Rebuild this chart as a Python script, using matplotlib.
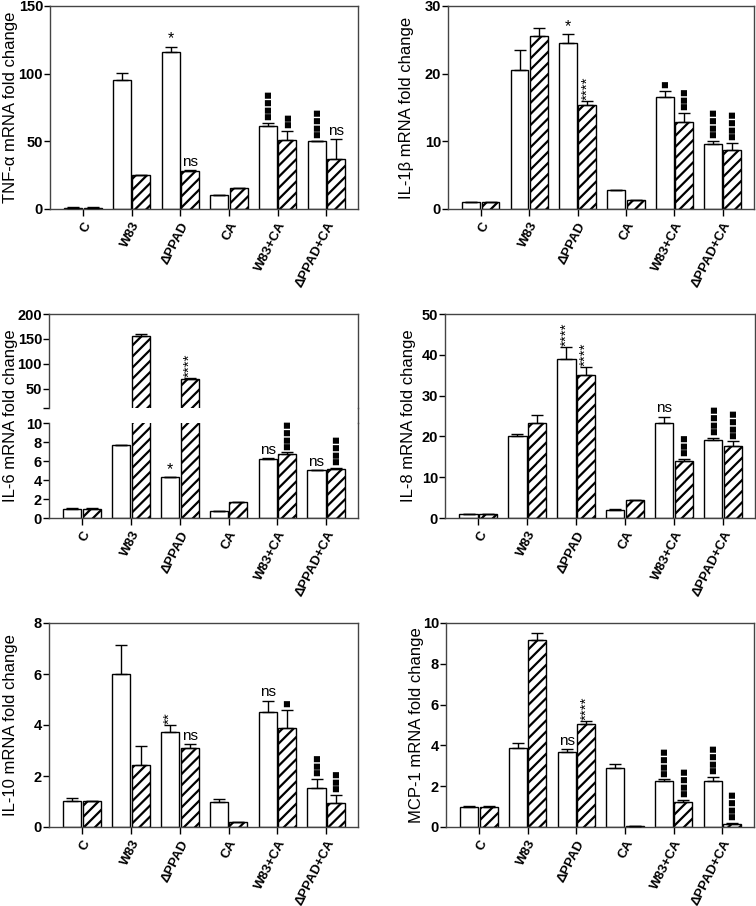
import matplotlib
matplotlib.use("Agg")
import matplotlib.pyplot as plt
import numpy as np

plt.rcParams['font.family'] = ['Liberation Sans', 'DejaVu Sans']
plt.rcParams['hatch.linewidth'] = 1.6

categories = ["C", "W83", "ΔPPAD", "CA", "W83+CA", "ΔPPAD+CA"]

# TNF-alpha
tnf_white = [1.0, 95.4, 116.3, 10.1, 61.0, 49.9]
tnf_white_err = [0.3, 5.4, 3.7, 0.2, 2.4, 0.5]
tnf_hatch = [1.0, 24.8, 28.3, 15.5, 51.1, 36.9]
tnf_hatch_err = [0.2, 0.3, 0.3, 0.3, 6.7, 14.7]
tnf_white_sig = ["", "", "*", "", "sq4", "sq4"]
tnf_hatch_sig = ["", "", "ns", "", "sq2", "ns"]

# IL-1beta
il1b_white = [1.0, 20.6, 24.5, 2.75, 16.6, 9.64]
il1b_white_err = [0.05, 2.9, 1.3, 0.1, 0.9, 0.4]
il1b_hatch = [1.0, 25.5, 15.4, 1.28, 12.9, 8.76]
il1b_hatch_err = [0.05, 1.2, 0.5, 0.05, 1.3, 1.0]
il1b_white_sig = ["", "", "*", "", "sq1", "sq4"]
il1b_hatch_sig = ["", "", "****", "", "sq3", "sq4"]

# IL-6 (broken axis)
il6_white = [1.0, 7.65, 4.28, 0.7, 6.25, 5.02]
il6_white_err = [0.02, 0.08, 0.05, 0.02, 0.06, 0.04]
il6_hatch = [1.0, 156.0, 68.7, 1.68, 6.77, 5.19]
il6_hatch_err = [0.03, 4.0, 2.0, 0.03, 0.13, 0.06]
il6_white_sig = ["", "", "*", "", "ns", "ns"]
il6_hatch_sig = ["", "", "****", "", "sq4", "sq4"]

# IL-8
il8_white = [1.0, 20.0, 39.0, 2.04, 23.3, 19.0]
il8_white_err = [0.05, 0.6, 2.9, 0.05, 1.5, 0.6]
il8_hatch = [1.0, 23.3, 35.1, 4.3, 13.9, 17.7]
il8_hatch_err = [0.05, 2.0, 1.9, 0.05, 0.6, 1.1]
il8_white_sig = ["", "", "****", "", "ns", "sq4"]
il8_hatch_sig = ["", "", "****", "", "sq3", "sq4"]

# IL-10
il10_white = [1.01, 6.0, 3.71, 0.98, 4.5, 1.53]
il10_white_err = [0.14, 1.12, 0.29, 0.13, 0.46, 0.37]
il10_hatch = [1.01, 2.45, 3.08, 0.2, 3.87, 0.94]
il10_hatch_err = [0.01, 0.74, 0.17, 0.01, 0.71, 0.33]
il10_white_sig = ["", "", "**", "", "ns", "sq3"]
il10_hatch_sig = ["", "", "ns", "", "sq1", "sq3"]

# MCP-1
mcp_white = [1.0, 3.89, 3.69, 2.87, 2.26, 2.25]
mcp_white_err = [0.02, 0.21, 0.13, 0.21, 0.07, 0.21]
mcp_hatch = [1.0, 9.15, 5.05, 0.05, 1.25, 0.16]
mcp_hatch_err = [0.02, 0.35, 0.15, 0.01, 0.09, 0.05]
mcp_white_sig = ["", "", "ns", "", "sq4", "sq4"]
mcp_hatch_sig = ["", "", "****", "", "sq4", "sq4"]

W, H = 756, 906
fig = plt.figure(figsize=(W / 100, H / 100), dpi=100)

SPINE = '#444444'
BW = 0.37
OFF = 0.2
YLAB_FS = 12


def rect(l, t, r, b):
    return [l / W, 1 - b / H, (r - l) / W, (b - t) / H]


def style_axes(ax, show_x=True):
    for s in ax.spines.values():
        s.set_color(SPINE)
        s.set_linewidth(1.0)
    ax.tick_params(axis='y', direction='out', length=4, width=1, pad=1,
                   colors='black', labelsize=10.5)
    for lab in ax.get_yticklabels():
        lab.set_fontweight('bold')
    ax.set_xlim(-0.68, 5.65)
    if show_x:
        ax.set_xticks(np.arange(len(categories)))
        ax.set_xticklabels(categories, rotation=63, ha='right',
                           rotation_mode='anchor', fontsize=9.5,
                           fontweight='bold')
        ax.tick_params(axis='x', direction='out', length=5, width=1, pad=3)
    else:
        ax.set_xticks([])


def annotate(ax, x, top, sig):
    if not sig:
        return
    if sig.startswith('sq'):
        n = int(sig[2:])
        ax.annotate("■" * n, xy=(x, top), xytext=(0, 2), textcoords='offset points',
                    ha='center', va='bottom', rotation=90, fontsize=5.8,
                    family='DejaVu Sans', annotation_clip=False)
    elif sig.startswith('*') and len(sig) > 1:
        ax.annotate(sig, xy=(x, top), xytext=(0, 1), textcoords='offset points',
                    ha='center', va='bottom', rotation=90, fontsize=11,
                    annotation_clip=False)
    elif sig == '*':
        ax.annotate(sig, xy=(x, top), xytext=(0, 0), textcoords='offset points',
                    ha='center', va='bottom', fontsize=11.5, annotation_clip=False)
    else:
        ax.annotate(sig, xy=(x, top), xytext=(0, 1), textcoords='offset points',
                    ha='center', va='bottom', fontsize=11, annotation_clip=False)


def draw_bars(ax, white, werr, hatch, herr, wsig, hsig, sig_range=None):
    x = np.arange(len(categories))
    white = np.asarray(white)
    hatch = np.asarray(hatch)
    ax.bar(x - OFF, white, BW, color='white', edgecolor='black', linewidth=1.0, zorder=2)
    ax.bar(x + OFF, hatch, BW, color='white', edgecolor='black', linewidth=1.0,
           hatch='///', zorder=2)
    z = np.zeros(len(x))
    ax.errorbar(x - OFF, white, yerr=[z, werr], fmt='none', ecolor='black',
                elinewidth=1.0, capsize=4, capthick=1.0, zorder=3)
    ax.errorbar(x + OFF, hatch, yerr=[z, herr], fmt='none', ecolor='black',
                elinewidth=1.0, capsize=4, capthick=1.0, zorder=3)
    for i in range(len(x)):
        for xx, v, e, s in ((x[i] - OFF, white[i], werr[i], wsig[i]),
                            (x[i] + OFF, hatch[i], herr[i], hsig[i])):
            top = v + e
            if sig_range is None or (sig_range[0] <= top < sig_range[1]):
                annotate(ax, xx, top, s)


def ylabel_at(xpix, top, bottom, text):
    fig.text(xpix / W, 1 - (top + bottom) / 2 / H, text, rotation=90,
             ha='center', va='center', fontsize=YLAB_FS)


def panel(r, white, werr, hatch, herr, wsig, hsig, ymax, step, ylabel, labx):
    ax = fig.add_axes(rect(*r))
    draw_bars(ax, white, werr, hatch, herr, wsig, hsig)
    ax.set_ylim(0, ymax)
    ax.set_yticks(np.arange(0, ymax + step / 2, step))
    style_axes(ax)
    ylabel_at(labx, r[1], r[3], ylabel)
    return ax


panel((50, 6, 358, 209), tnf_white, tnf_white_err, tnf_hatch, tnf_hatch_err,
      tnf_white_sig, tnf_hatch_sig, 150, 50, "TNF-α mRNA fold change", 11)
panel((448, 6, 754, 209), il1b_white, il1b_white_err, il1b_hatch, il1b_hatch_err,
      il1b_white_sig, il1b_hatch_sig, 30, 10, "IL-1β mRNA fold change", 406)
panel((445, 314, 755, 518), il8_white, il8_white_err, il8_hatch, il8_hatch_err,
      il8_white_sig, il8_hatch_sig, 50, 10, "IL-8 mRNA fold change", 408)
panel((49, 623, 358, 827), il10_white, il10_white_err, il10_hatch, il10_hatch_err,
      il10_white_sig, il10_hatch_sig, 8, 2, "IL-10 mRNA fold change", 11)
panel((446, 623, 754, 827), mcp_white, mcp_white_err, mcp_hatch, mcp_hatch_err,
      mcp_white_sig, mcp_hatch_sig, 10, 2, "MCP-1 mRNA fold change", 416)

# IL-6 broken axis
axu = fig.add_axes(rect(49, 314, 358, 408))
axl = fig.add_axes(rect(49, 423, 358, 518))
draw_bars(axu, il6_white, il6_white_err, il6_hatch, il6_hatch_err,
          il6_white_sig, il6_hatch_sig, sig_range=(10, 1e9))
draw_bars(axl, il6_white, il6_white_err, il6_hatch, il6_hatch_err,
          il6_white_sig, il6_hatch_sig, sig_range=(-1, 10))
axu.set_ylim(11, 200)
axu.set_yticks([11, 50, 100, 150, 200])
axu.set_yticklabels(["", "50", "100", "150", "200"])
axl.set_ylim(0, 10)
axl.set_yticks(np.arange(0, 11, 2))
style_axes(axu, show_x=False)
style_axes(axl)
axu.spines['bottom'].set_visible(False)
axl.spines['top'].set_visible(False)
axu.tick_params(axis='x', length=0)
# continuous right border across the gap
fig.add_artist(plt.Line2D([358 / W, 358 / W], [1 - 423 / H, 1 - 408 / H],
                          color=SPINE, linewidth=1.0))
ylabel_at(11, 314, 518, "IL-6 mRNA fold change")

fig.savefig("out.png", dpi=100)
